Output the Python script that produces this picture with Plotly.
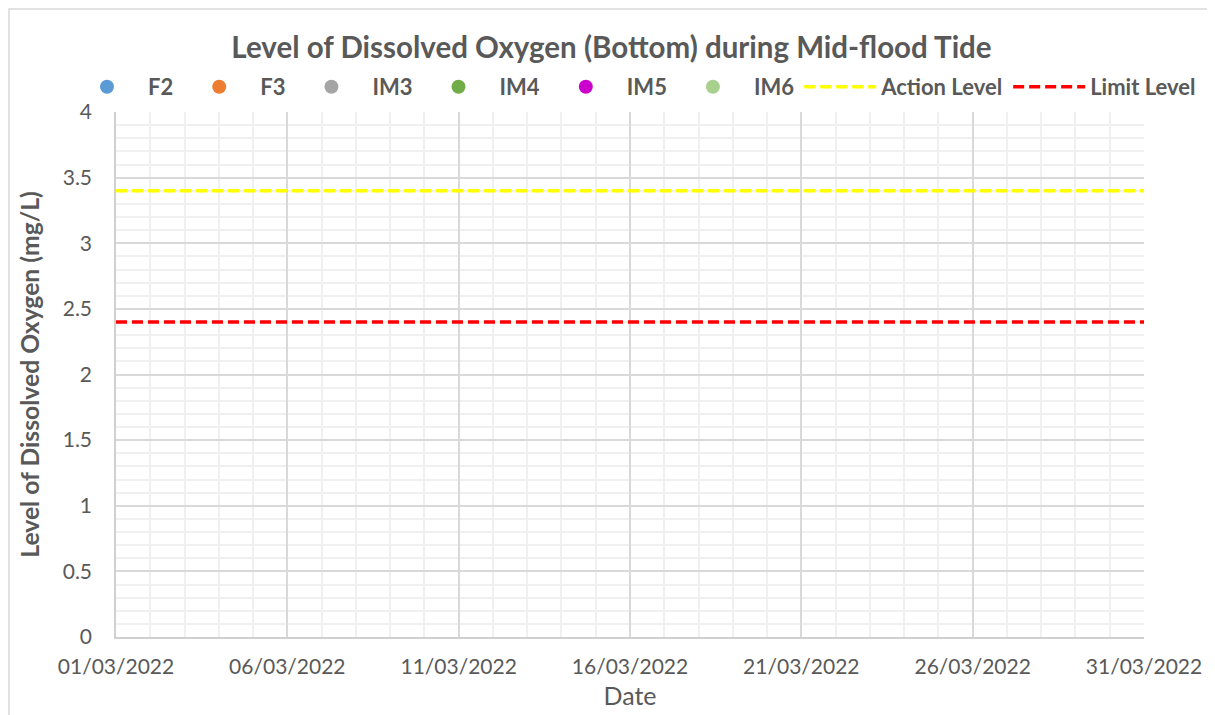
import plotly.graph_objects as go

stations = ["F2", "F3", "IM3", "IM4", "IM5", "IM6"]
station_colors = ["#5B9BD5", "#ED7D31", "#A5A5A5", "#70AD47", "#CC00CC", "#A9D18E"]
level_dates = ["2022-03-01", "2022-03-31"]
action_level = [3.4, 3.4]
limit_level = [2.4, 2.4]
x_ticks = ["2022-03-01", "2022-03-06", "2022-03-11", "2022-03-16", "2022-03-21", "2022-03-26", "2022-03-31"]
x_tick_labels = ["01/03/2022", "06/03/2022", "11/03/2022", "16/03/2022", "21/03/2022", "26/03/2022", "31/03/2022"]
y_ticks = [0, 0.5, 1, 1.5, 2, 2.5, 3, 3.5, 4]
y_tick_labels = ["0", "0.5", "1", "1.5", "2", "2.5", "3", "3.5", "4"]

FONT = "Lato"
GREY = "#595959"
# page body has an 8px margin; figure is sized/offset to compensate
W, H = 1207, 707
ML, MR, MT, MB = 108, 71, 104, 78
PW = W - ML - MR
PH = H - MT - MB

fig = go.Figure()
for name, col in zip(stations, station_colors):
    fig.add_trace(go.Scatter(x=[None], y=[None], mode="markers", name=name,
                             marker=dict(color=col, size=14)))
fig.add_trace(go.Scatter(x=level_dates, y=action_level, mode="lines", name="Action Level",
                         line=dict(color="#FFFF00", width=3.5, dash="11px,5px")))
fig.add_trace(go.Scatter(x=level_dates, y=limit_level, mode="lines", name="Limit Level",
                         line=dict(color="#FF0000", width=3.5, dash="11px,5px")))

fig.update_layout(
    width=W, height=H,
    paper_bgcolor="white", plot_bgcolor="white",
    margin=dict(l=ML, r=MR, t=MT, b=MB, autoexpand=False),
    font=dict(family=FONT, color=GREY, size=20),
    title=dict(text="<b>Level of Dissolved Oxygen (Bottom) during Mid-flood Tide</b>",
               x=0.5, xanchor="center", y=1 - 40 / H, yanchor="middle",
               font=dict(size=29.5, color=GREY, family=FONT)),
    legend=dict(orientation="h", x=(58 - ML) / PW, xanchor="left", y=1 + 25 / PH, yanchor="middle",
                font=dict(size=22, color=GREY, family=FONT, weight="bold"), itemwidth=72,
                bgcolor="rgba(0,0,0,0)"),
    showlegend=True,
    xaxis=dict(type="date", range=["2022-03-01", "2022-03-31"], automargin=False,
               tickvals=x_ticks, ticktext=x_tick_labels, tickangle=0,
               showgrid=True, gridcolor="#D9D9D9", gridwidth=1.5,
               minor=dict(dtick=86400000, showgrid=True, gridcolor="#F0F0F0", gridwidth=1.5),
               showline=True, linecolor="#D0D0D0", linewidth=1.5, mirror=False,
               zeroline=False, ticks="", ticklabelstandoff=10,
               title=dict(text="Date", font=dict(size=25, color=GREY), standoff=11),
               tickfont=dict(size=21, color=GREY)),
    yaxis=dict(range=[0, 4], tickvals=y_ticks, ticktext=y_tick_labels, automargin=False,
               showgrid=True, gridcolor="#D9D9D9", gridwidth=1.5,
               minor=dict(dtick=0.1, showgrid=True, gridcolor="#F0F0F0", gridwidth=1.5),
               showline=True, linecolor="#D0D0D0", linewidth=1.5,
               zeroline=False, ticks="", ticklabelstandoff=18,
               title=dict(text="<b>Level of Dissolved Oxygen (mg/L)</b>", font=dict(size=24.7, color=GREY), standoff=16),
               tickfont=dict(size=21, color=GREY)),
)
fig.add_shape(type="rect", xref="paper", yref="paper",
              x0=(1 - ML) / PW, x1=1.3, y0=-0.4, y1=(PH + MT - 1) / PH,
              line=dict(color="#D9D9D9", width=1.5), fillcolor="rgba(0,0,0,0)", layer="below")
fig.write_html("out.html", config={"displayModeBar": False})
